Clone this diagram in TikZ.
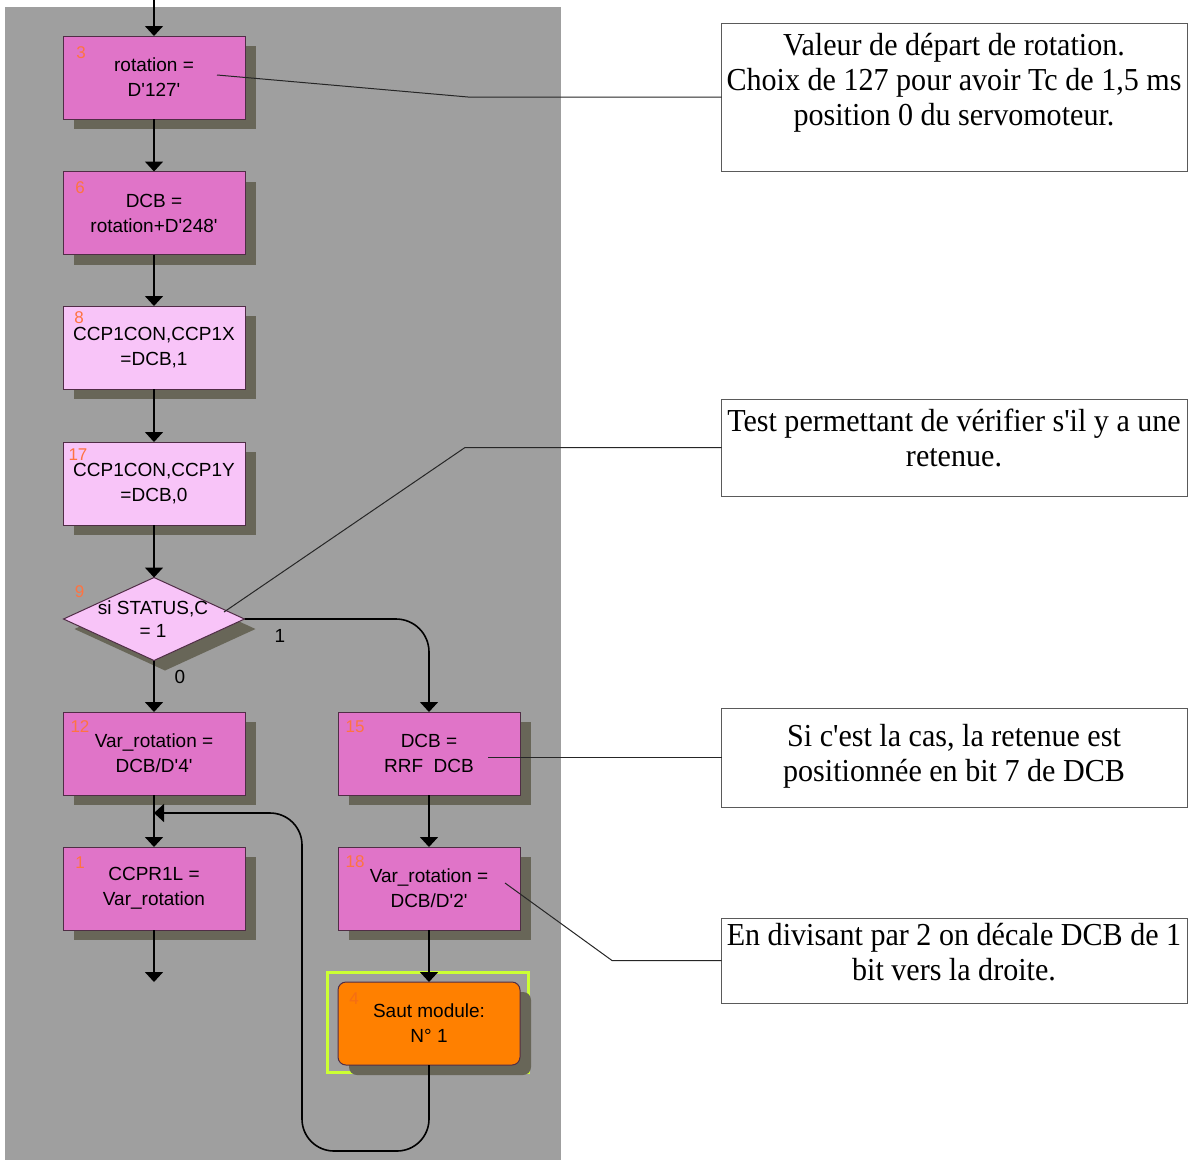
\documentclass[tikz,border=0pt]{standalone}
\usepackage{fontspec}
\usepackage{graphicx}
\setmainfont{Liberation Serif}
\newfontfamily\arialf{Liberation Sans}
\usetikzlibrary{arrows.meta,shapes.geometric,shadows,calc}
\definecolor{bgc}{RGB}{159,159,159}
\definecolor{pinkc}{RGB}{224,116,200}
\definecolor{lpinkc}{RGB}{248,196,248}
\definecolor{orangec}{RGB}{255,128,0}
\definecolor{shadc}{RGB}{104,102,88}
\definecolor{edgec}{RGB}{80,45,70}
\definecolor{numc}{RGB}{255,115,65}
\definecolor{num4c}{RGB}{245,110,20}
\definecolor{limec}{RGB}{204,255,51}
\definecolor{cboxc}{RGB}{90,90,90}
\newcommand{\apo}{\textquotesingle}
\newcommand{\ctx}[1]{\scalebox{0.94}[1]{\begin{tabular}{@{}c@{}}#1\end{tabular}}}
\begin{document}
\begin{tikzpicture}[x=1pt,y=-1pt,
  every node/.style={inner sep=0pt,outer sep=0pt},
  shad/.style={drop shadow={shadow xshift=11pt,shadow yshift=-10pt,fill=shadc,opacity=1}},
  proc/.style={shape=rectangle,draw=edgec,line width=1pt,fill=pinkc,minimum width=182pt,minimum height=83pt,align=center,font=\arialf\fontsize{19}{25}\selectfont,shad},
  lproc/.style={proc,fill=lpinkc},
  numl/.style={font=\arialf\fontsize{17}{17}\selectfont,text=numc},
  arr/.style={line width=1.6pt,draw=black,-{Triangle[width=18pt,length=10pt]}},
  cline/.style={line width=1pt,draw=black!85},
  cbox/.style={shape=rectangle,draw=cboxc,line width=1pt,minimum width=466pt},
  ctext/.style={font=\fontsize{32}{35}\selectfont},
  blab/.style={font=\arialf\fontsize{19}{19}\selectfont}
]
\useasboundingbox (0,0) rectangle (1196,1160);
\fill[white] (0,0) rectangle (1196,1160);
\fill[bgc] (5,7) rectangle (561,1160);

% flowchart nodes
\node[proc]  (b3)  at (154,77.5)  {rotation =\\D\apo 127\apo};
\node[proc]  (b6)  at (154,213)   {DCB =\\rotation+D\apo 248\apo};
\node[lproc] (b8)  at (154,347.5) {CCP1CON,CCP1X\\=DCB,1};
\node[lproc] (b17) at (154,483.5) {CCP1CON,CCP1Y\\=DCB,0};
\node[shape=diamond,draw=edgec,line width=1pt,fill=lpinkc,minimum width=181pt,minimum height=83pt,shad] (dia) at (154,619) {};
\node[align=center,font=\arialf\fontsize{19}{23}\selectfont] (dtext) at (153,619) {si STATUS,C\\= 1};
\node[proc]  (b12) at (154,753.5) {Var\_rotation =\\DCB/D\apo 4\apo};
\node[proc]  (b15) at (429,753.5) {DCB =\\RRF~~DCB};
\node[proc]  (b1)  at (154,888.5) {CCPR1L =\\Var\_rotation};
\node[proc]  (b18) at (429,888.5) {Var\_rotation =\\DCB/D\apo 2\apo};
\node[shape=rectangle,draw=limec,line width=2.5pt,minimum width=201pt,minimum height=100pt] (f4) at (428,1022.5) {};
\node[proc,fill=orangec,rounded corners=8pt] (b4) at (429,1023.5) {Saut module:\\N° 1};

% step numbers
\node[numl] (n3)  at ($(b3.north west)+(18,17)$) {3};
\node[numl] (n6)  at ($(b6.north west)+(17,16)$) {6};
\node[numl] (n8)  at ($(b8.north west)+(16,12)$) {8};
\node[numl] (n17) at ($(b17.north west)+(15,13)$) {17};
\node[numl] (n9)  at ($(dia.west)+(16,-27)$) {9};
\node[numl] (n12) at ($(b12.north west)+(17,15)$) {12};
\node[numl] (n15) at ($(b15.north west)+(17,15)$) {15};
\node[numl] (n1)  at ($(b1.north west)+(17,16)$) {1};
\node[numl] (n18) at ($(b18.north west)+(17,15)$) {18};
\node[numl,text=num4c] (n4) at ($(b4.north west)+(16,17)$) {4};

% branch labels
\node[blab] (l1) at (280,636) {1};
\node[blab] (l0) at (180,677) {0};

% connectors
\coordinate (top) at (154,0);
\coordinate (ex) at (154,982);
\draw[arr] (top) -- (b3);
\draw[arr] (b3) -- (b6);
\draw[arr] (b6) -- (b8);
\draw[arr] (b8) -- (b17);
\draw[arr] (b17) -- (dia);
\draw[arr] (dia) -- (b12);
\draw[arr,rounded corners=33pt] (dia.east) -| (b15);
\draw[arr] (b12) -- (b1);
\draw[arr] (b1) -- (ex);
\draw[arr] (b15) -- (b18);
\draw[arr] (b18) -- (b4);
\coordinate (lb) at (302,1151);
\coordinate (lt) at (302,813);
\coordinate (jn) at (154,813);
\draw[arr,rounded corners=32pt] (b4.south) |- (lb) -- (lt) -- (jn);

% callout boxes
\node[cbox,minimum height=148pt] (cA) at (954.5,97) {};
\node[ctext] (tA) at (954,83) {\ctx{Valeur de départ de rotation.\\Choix de 127 pour avoir Tc de 1,5 ms\\position 0 du servomoteur.}};
\node[cbox,minimum height=97pt] (cB) at (954.5,447.5) {};
\node[ctext] (tB) at (954,442) {\ctx{Test permettant de vérifier s\apo il y a une\\retenue.}};
\node[cbox,minimum height=99pt] (cC) at (954.5,757.5) {};
\node[ctext] (tC) at (954,757) {\ctx{Si c\apo est la cas, la retenue est\\positionnée en bit 7 de DCB}};
\node[cbox,minimum height=85pt] (cD) at (954.5,960.5) {};
\node[ctext] (tD) at (954,956) {\ctx{En divisant par 2 on décale DCB de 1\\bit vers la droite.}};

% callout lines
\coordinate (pA) at (217,75);
\coordinate (qA) at (468,97);
\draw[cline] (pA) -- (qA) -- (cA.west);
\coordinate (pB) at (224,612);
\coordinate (qB) at (465,447.5);
\draw[cline] (pB) -- (qB) -- (cB.west);
\coordinate (pC) at (488,757.5);
\draw[cline] (pC) -- (cC.west);
\coordinate (pD) at (505,883);
\coordinate (qD) at (612,960.5);
\draw[cline] (pD) -- (qD) -- (cD.west);
\end{tikzpicture}
\end{document}
